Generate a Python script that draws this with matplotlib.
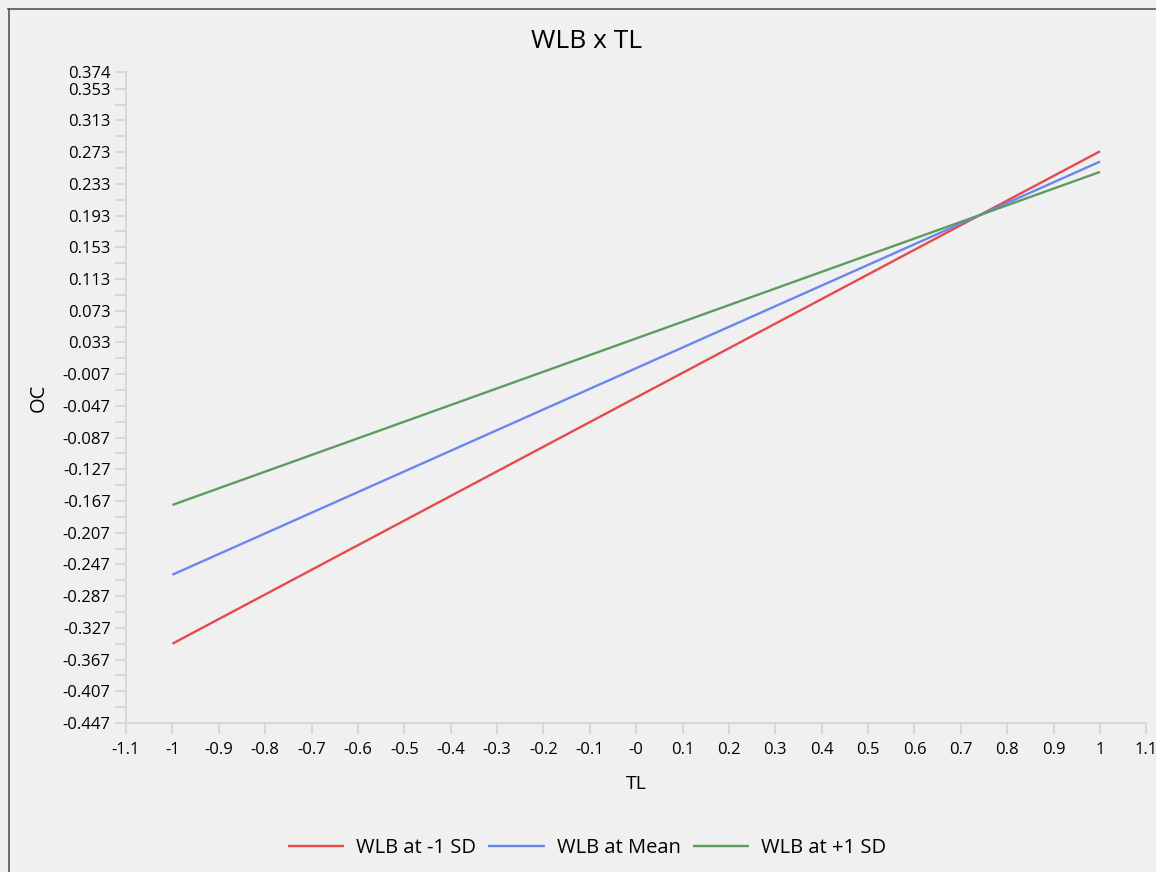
import matplotlib
matplotlib.use("Agg")
import matplotlib.pyplot as plt
from matplotlib.lines import Line2D

plt.rcParams['font.family'] = ['Open Sans', 'DejaVu Sans']

# Data
x_points = [-1, 1]
series_names = ["WLB at -1 SD", "WLB at Mean", "WLB at +1 SD"]
wlb_low = [-0.347, 0.274]
wlb_mean = [-0.260, 0.261]
wlb_high = [-0.172, 0.248]
colors = ["#e64a4c", "#6b86ee", "#5f9a5f"]

x_ticks = [-1.1, -1.0, -0.9, -0.8, -0.7, -0.6, -0.5, -0.4, -0.3, -0.2, -0.1, 0.0,
           0.1, 0.2, 0.3, 0.4, 0.5, 0.6, 0.7, 0.8, 0.9, 1.0, 1.1]
x_tick_labels = ["-1.1", "-1", "-0.9", "-0.8", "-0.7", "-0.6", "-0.5", "-0.4", "-0.3",
                 "-0.2", "-0.1", "-0", "0.1", "0.2", "0.3", "0.4", "0.5", "0.6", "0.7",
                 "0.8", "0.9", "1", "1.1"]
y_ticks = [-0.447, -0.407, -0.367, -0.327, -0.287, -0.247, -0.207, -0.167, -0.127,
           -0.087, -0.047, -0.007, 0.033, 0.073, 0.113, 0.153, 0.193, 0.233, 0.273,
           0.313, 0.353, 0.374]
y_tick_labels = ["-0.447", "-0.407", "-0.367", "-0.327", "-0.287", "-0.247", "-0.207",
                 "-0.167", "-0.127", "-0.087", "-0.047", "-0.007", "0.033", "0.073",
                 "0.113", "0.153", "0.193", "0.233", "0.273", "0.313", "0.353", "0.374"]
y_minor = [-0.427, -0.387, -0.347, -0.307, -0.267, -0.227, -0.187, -0.147, -0.107,
           -0.067, -0.027, 0.013, 0.053, 0.093, 0.133, 0.173, 0.213, 0.253, 0.293, 0.333]

W, H = 1156, 872
fig = plt.figure(figsize=(W / 100, H / 100), dpi=100, facecolor="#f0f0f0")
ax = fig.add_axes([126 / W, (H - 723) / H, (1146.4 - 126) / W, (723 - 72) / H])
ax.set_facecolor("#f0f0f0")

for name, vals, c in zip(series_names, [wlb_low, wlb_mean, wlb_high], colors):
    ax.plot(x_points, vals, color=c, lw=1.7, label=name, solid_capstyle="butt")

ax.set_xlim(-1.1, 1.1)
ax.set_ylim(-0.447, 0.374)
ax.set_xticks(x_ticks)
ax.set_xticklabels(x_tick_labels)
ax.set_yticks(y_ticks)
ax.set_yticklabels(y_tick_labels)
ax.set_yticks(y_minor, minor=True)

spine_c = "#d4d4d8"
for s in ["top", "right"]:
    ax.spines[s].set_visible(False)
for s in ["left", "bottom"]:
    ax.spines[s].set_color(spine_c)
    ax.spines[s].set_linewidth(1.2)
ax.tick_params(axis="both", which="both", color=spine_c, width=1.2, length=8,
               labelsize=12, labelcolor="#000000")
ax.tick_params(axis="y", pad=3)
ax.tick_params(axis="x", pad=6)

fig.text(587 / W, (H - 41) / H, "WLB x TL", fontsize=19, ha="center", va="center",
         color="#000000")
ax.set_xlabel("TL", fontsize=14, labelpad=12, color="#000000")
ax.set_ylabel("OC", fontsize=14.5, labelpad=10, color="#000000")

fig.legend(loc="center", bbox_to_anchor=(587 / W, (H - 848) / H), ncol=3, frameon=False,
           fontsize=14.5, handlelength=2.8, handletextpad=0.6, columnspacing=0.6)

# figure border (top and left)
fig.add_artist(Line2D([8 / W, 1.0], [(H - 9.5) / H, (H - 9.5) / H], color="#555555", lw=1.2,
                      transform=fig.transFigure))
fig.add_artist(Line2D([8.5 / W, 8.5 / W], [0, (H - 9.5) / H], color="#555555", lw=1.2,
                      transform=fig.transFigure))

fig.savefig("out.png", dpi=100, facecolor=fig.get_facecolor())
